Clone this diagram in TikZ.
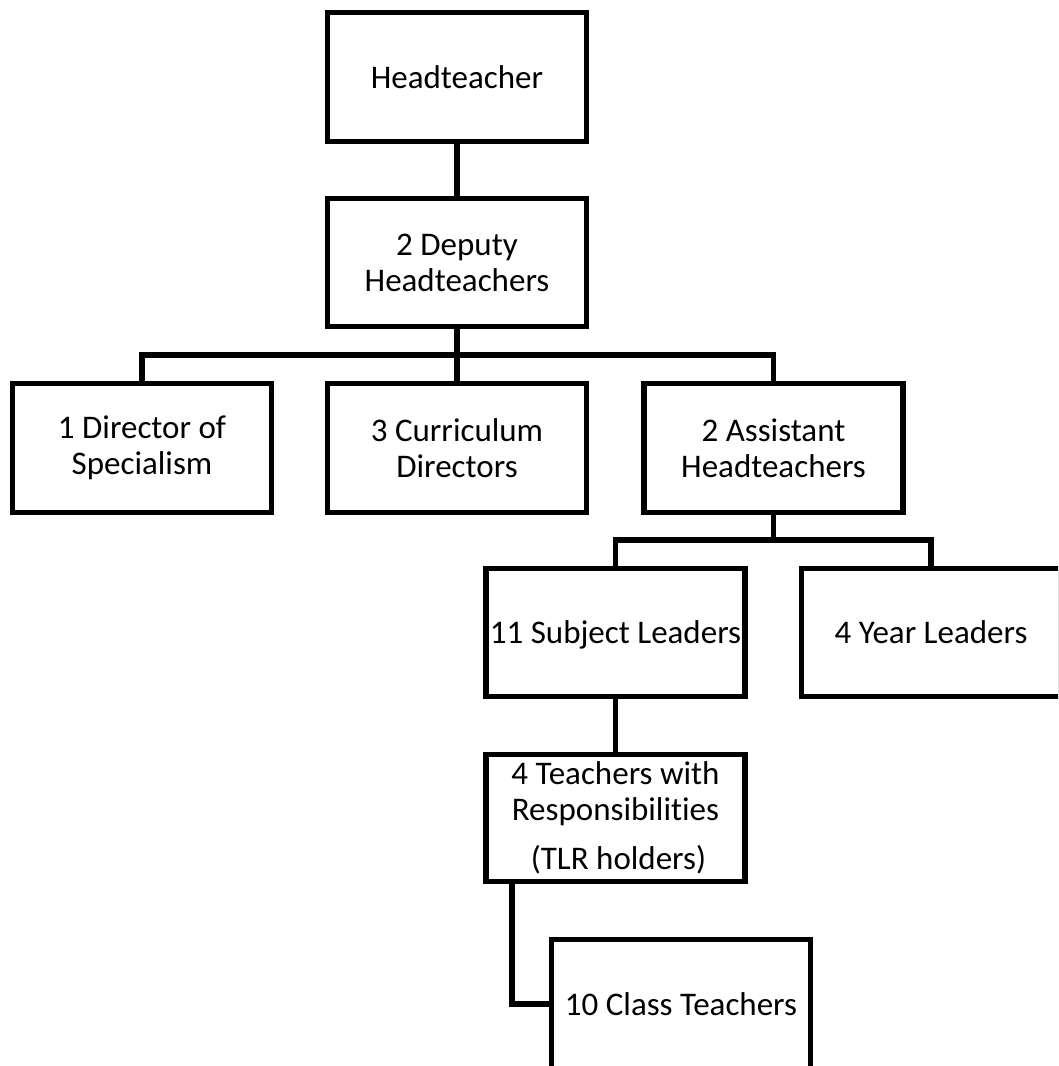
\documentclass[tikz,border=0pt]{standalone}
\usepackage{fontspec}
\setmainfont{Carlito}[RawFeature={-liga;-clig}]
\begin{document}
\begin{tikzpicture}[x=1pt,y=-1pt,
  box/.style={draw=black,line width=5.5pt,fill=white,minimum width=259pt,minimum height=129pt,
    inner sep=0pt,align=center,font=\fontsize{33}{36}\selectfont},
  conn/.style={draw=black,line width=5.5pt}]
\useasboundingbox (0,0) rectangle (1058,1066);
\clip (0,0) rectangle (1058,1066);
\fill[white] (0,0) rectangle (1058,1066);
\node[box] (head) at (457,77) {Headteacher};
\node[box,minimum height=128pt] (dep) at (457,262.5) {2 Deputy\\Headteachers};
\node[box] (dir) at (142,448) {1 Director of\\Specialism};
\node[box] (cur) at (457,448) {3 Curriculum\\Directors};
\node[box] (ast) at (773.5,448) {2 Assistant\\Headteachers};
\node[box,minimum height=128pt,text depth=0pt] (sub) at (615.5,632.5) {11 Subject Leaders};
\node[box,minimum height=128pt,text depth=0pt] (year) at (931,632.5) {4 Year Leaders};
\node[box,minimum height=127pt] (tlr) at (615.5,818) {4 Teachers with\\Responsibilities\\[13pt]\hspace*{6pt}(TLR holders)};
\node[box] (cls) at (681,1004) {10 Class Teachers};
\coordinate (bus1) at (457,355);
\coordinate (bus2) at (773.5,540);
\draw[conn] (head.south) -- (dep.north);
\draw[conn] (dep.south) -- (cur.north);
\draw[conn] (dir.north) |- (bus1) -| (ast.north);
\draw[conn] (ast.south) -- (bus2);
\draw[conn] (sub.north) |- (bus2) -| (year.north);
\draw[conn] (sub.south) -- (tlr.north);
\draw[conn] ([xshift=-103.5pt]tlr.south) |- (cls.west);
\end{tikzpicture}
\end{document}
